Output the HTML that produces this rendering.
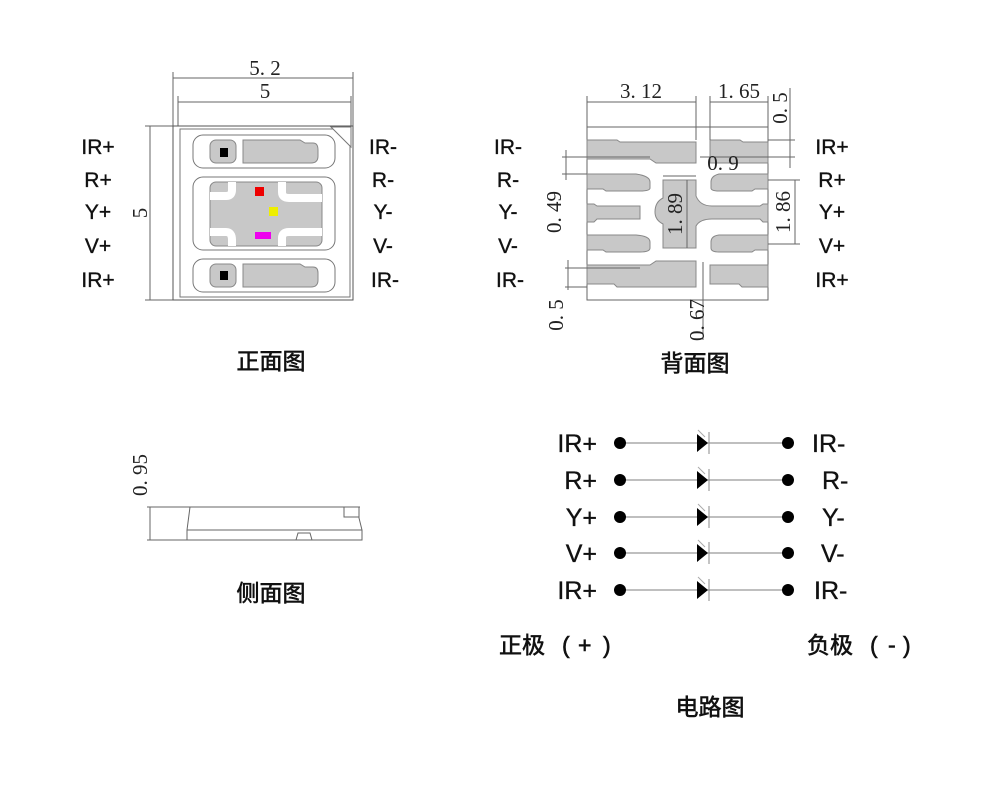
<!DOCTYPE html>
<html><head><meta charset="utf-8"><style>
html,body{margin:0;padding:0;background:#fff;}
svg{display:block;}
.t{font-family:"Liberation Sans","Noto Sans CJK SC",sans-serif;fill:#111;stroke:#111;stroke-width:0.35;}
.d{font-family:"Liberation Serif","Noto Serif CJK SC",serif;fill:#222;font-size:21px;}
.pad{fill:#c8c8c8;stroke:#888;stroke-width:1;}
.ln{stroke:#666;stroke-width:1;fill:none;}
</style></head><body>
<svg width="1000" height="794" viewBox="0 0 1000 794">
<!-- FRONT VIEW -->
<g>
<line class="ln" x1="173" y1="78" x2="353" y2="78"/>
<line class="ln" x1="178" y1="102" x2="351" y2="102"/>
<line class="ln" x1="173" y1="72" x2="173" y2="130"/>
<line class="ln" x1="353" y1="72" x2="353" y2="130"/>
<line class="ln" x1="178" y1="96" x2="178" y2="130"/>
<line class="ln" x1="351" y1="96" x2="351" y2="130"/>
<text class="d" x="265" y="75" text-anchor="middle">5. 2</text>
<text class="d" x="265" y="98" text-anchor="middle">5</text>
<line class="ln" x1="150" y1="126" x2="150" y2="300"/>
<line class="ln" x1="145" y1="126" x2="180" y2="126"/>
<line class="ln" x1="145" y1="300" x2="180" y2="300"/>
<text class="d" transform="translate(147,213) rotate(-90)" text-anchor="middle">5</text>
<rect x="173" y="126" width="180" height="174" fill="#fff" stroke="#555"/>
<rect x="180" y="129" width="170" height="168" fill="#fff" stroke="#777"/>
<path d="M331 127 L351 127 L351 147 Z" fill="#fff" stroke="#777"/>
<rect x="193" y="135" width="142" height="33" rx="10" fill="#fff" stroke="#777"/>
<rect x="210" y="140" width="26" height="23" rx="6" class="pad"/>
<rect x="220" y="148" width="8" height="9" fill="#000"/>
<path d="M243 140 H300 L305 143 H313 Q318 143 318 150 V156 Q318 163 311 163 H243 Z" class="pad"/>
<rect x="193" y="177" width="142" height="73" rx="10" fill="#fff" stroke="#777"/>
<rect x="210" y="182" width="112" height="64" rx="6" class="pad"/>
<path d="M232 182 V190 Q232 196 226 196 H210 M210 232 H226 Q232 232 232 240 V246 M282 182 V192 Q282 198 289 198 H322 M282 246 V238 Q282 232 289 232 H322" stroke="#fff" stroke-width="8" fill="none"/>
<rect x="255" y="187" width="9" height="9" fill="#e00"/>
<rect x="269" y="207" width="9" height="9" fill="#ee0"/>
<rect x="255" y="232" width="16" height="7" fill="#e0e"/>
<rect x="193" y="259" width="142" height="33" rx="10" fill="#fff" stroke="#777"/>
<rect x="210" y="264" width="26" height="23" rx="6" class="pad"/>
<rect x="220" y="271" width="8" height="9" fill="#000"/>
<path d="M243 264 H300 L305 267 H313 Q318 267 318 273 V280 Q318 287 311 287 H243 Z" class="pad"/>
</g>
<g class="t" font-size="21">
<text x="98" y="154" text-anchor="middle">IR+</text>
<text x="98" y="187" text-anchor="middle">R+</text>
<text x="98" y="219" text-anchor="middle">Y+</text>
<text x="98" y="253" text-anchor="middle">V+</text>
<text x="98" y="287" text-anchor="middle">IR+</text>
<text x="383" y="154" text-anchor="middle">IR-</text>
<text x="383" y="187" text-anchor="middle">R-</text>
<text x="383" y="219" text-anchor="middle">Y-</text>
<text x="383" y="253" text-anchor="middle">V-</text>
<text x="385" y="287" text-anchor="middle">IR-</text>
<text x="508" y="154" text-anchor="middle">IR-</text>
<text x="508" y="187" text-anchor="middle">R-</text>
<text x="508" y="219" text-anchor="middle">Y-</text>
<text x="508" y="253" text-anchor="middle">V-</text>
<text x="510" y="287" text-anchor="middle">IR-</text>
<text x="832" y="154" text-anchor="middle">IR+</text>
<text x="832" y="187" text-anchor="middle">R+</text>
<text x="832" y="219" text-anchor="middle">Y+</text>
<text x="832" y="253" text-anchor="middle">V+</text>
<text x="832" y="287" text-anchor="middle">IR+</text>
</g>
<!-- BACK VIEW -->
<g>
<rect x="587" y="127" width="181" height="173" fill="#fff" stroke="#666"/>
<path d="M587 140 H617 L620 142 H696 V163 H656 L650 159 H587 Z" class="pad"/>
<path d="M710 140 H740 L743 142 H768 V163 H710 Z" class="pad"/>
<path d="M587 174 H636 Q650 176 650 182 V188 Q650 191 640 191 H606 L603 189 H587 Z" class="pad"/>
<path d="M768 174 H719 Q711 176 711 182 V188 Q711 191 719 191 H752 L755 189 H768 Z" class="pad"/>
<path d="M587 204 H594 L597 206 H640 V219 H597 L594 222 H587 Z" class="pad"/>
<path d="M663 180 H696 V196 Q700 206 712 206 H760 L763 204 H768 V222 H763 L760 219 H712 Q700 219 696 226 V248 H663 V224 Q655 220 655 212 Q655 202 663 198 Z" class="pad"/>
<path d="M587 235 H636 Q650 236 650 242 V248 Q650 252 640 252 H606 L603 250 H587 Z" class="pad"/>
<path d="M768 235 H719 Q711 236 711 242 V248 Q711 252 719 252 H752 L755 250 H768 Z" class="pad"/>
<path d="M587 265 H650 L656 261 H696 V287 H617 L614 284 H587 Z" class="pad"/>
<path d="M710 265 H768 V287 H742 L739 284 H710 Z" class="pad"/>
<line class="ln" x1="587" y1="102" x2="696" y2="102"/>
<line class="ln" x1="710" y1="102" x2="768" y2="102"/>
<line class="ln" x1="587" y1="96" x2="587" y2="127"/>
<line class="ln" x1="696" y1="96" x2="696" y2="140"/>
<line class="ln" x1="710" y1="96" x2="710" y2="140"/>
<line class="ln" x1="768" y1="96" x2="768" y2="127"/>
<text class="d" x="641" y="98" text-anchor="middle">3. 12</text>
<text class="d" x="739" y="98" text-anchor="middle">1. 65</text>
<line class="ln" x1="790" y1="88" x2="790" y2="168"/>
<line class="ln" x1="768" y1="140" x2="795" y2="140"/>
<line class="ln" x1="700" y1="157" x2="795" y2="157"/>
<text class="d" transform="translate(787,108) rotate(-90)" text-anchor="middle">0. 5</text>
<line class="ln" x1="663" y1="176" x2="696" y2="176"/>
<text class="d" x="723" y="170" text-anchor="middle">0. 9</text>
<line class="ln" x1="687" y1="180" x2="687" y2="248"/>
<text class="d" transform="translate(682,214) rotate(-90)" text-anchor="middle">1. 89</text>
<line class="ln" x1="795" y1="180" x2="795" y2="244"/>
<line class="ln" x1="768" y1="180" x2="800" y2="180"/>
<line class="ln" x1="768" y1="244" x2="800" y2="244"/>
<text class="d" transform="translate(790,212) rotate(-90)" text-anchor="middle">1. 86</text>
<line class="ln" x1="566" y1="150" x2="566" y2="180"/>
<line class="ln" x1="562" y1="157" x2="650" y2="157"/>
<line class="ln" x1="562" y1="174" x2="587" y2="174"/>
<text class="d" transform="translate(561,212) rotate(-90)" text-anchor="middle">0. 49</text>
<line class="ln" x1="568" y1="260" x2="568" y2="290"/>
<line class="ln" x1="565" y1="268" x2="640" y2="268"/>
<line class="ln" x1="565" y1="287" x2="587" y2="287"/>
<text class="d" transform="translate(563,315) rotate(-90)" text-anchor="middle">0. 5</text>
<line class="ln" x1="703" y1="262" x2="703" y2="340"/>
<text class="d" transform="translate(704,320) rotate(-90)" text-anchor="middle">0. 67</text>
</g>
<!-- SIDE VIEW -->
<g>
<line class="ln" x1="150" y1="507" x2="150" y2="540"/>
<line class="ln" x1="147" y1="507" x2="360" y2="507"/>
<line class="ln" x1="147" y1="540" x2="190" y2="540"/>
<text class="d" transform="translate(147,475) rotate(-90)" text-anchor="middle">0. 95</text>
<path d="M190 507 L187 530 V540 H362 V530 L359 518 V507" class="ln"/>
<line class="ln" x1="187" y1="530" x2="362" y2="530"/>
<path d="M344 507 V517 H359" class="ln"/>
<path d="M296 540 L298 533 H310 L312 540" class="ln"/>
</g>
<!-- CIRCUIT -->
<g>
<g id="row">
<line x1="620" y1="443" x2="788" y2="443" stroke="#999" stroke-width="1.2"/>
<circle cx="620" cy="443" r="6" fill="#000"/>
<circle cx="788" cy="443" r="6" fill="#000"/>
<path d="M697 434 L708 443 L697 452 Z" fill="#000"/>
<line x1="709" y1="432" x2="709" y2="454" stroke="#888"/>
<line x1="698" y1="430" x2="705" y2="437" stroke="#aaa"/>
</g>
<use href="#row" y="37"/>
<use href="#row" y="74"/>
<use href="#row" y="110"/>
<use href="#row" y="147"/>
</g>
<g class="t" font-size="25">
<text x="597" y="452" text-anchor="end">IR+</text>
<text x="597" y="489" text-anchor="end">R+</text>
<text x="597" y="526" text-anchor="end">Y+</text>
<text x="597" y="562" text-anchor="end">V+</text>
<text x="597" y="599" text-anchor="end">IR+</text>
<text x="812" y="452">IR-</text>
<text x="822" y="489">R-</text>
<text x="822" y="526">Y-</text>
<text x="821" y="562">V-</text>
<text x="814" y="599">IR-</text>
</g>
<g class="t" font-size="23" style="stroke-width:0.6">
<text x="271" y="369" text-anchor="middle">正面图</text>
<text x="695" y="371" text-anchor="middle">背面图</text>
<text x="271" y="601" text-anchor="middle">侧面图</text>
<text x="710" y="715" text-anchor="middle">电路图</text>
<text x="499" y="653">正极</text>
<text x="562" y="653">(</text><text x="578" y="653">+</text><text x="603" y="653">)</text>
<text x="807" y="653">负极</text>
<text x="870" y="653">(</text><text x="888" y="653">-</text><text x="903" y="653">)</text>
</g>
</svg>
</body></html>
